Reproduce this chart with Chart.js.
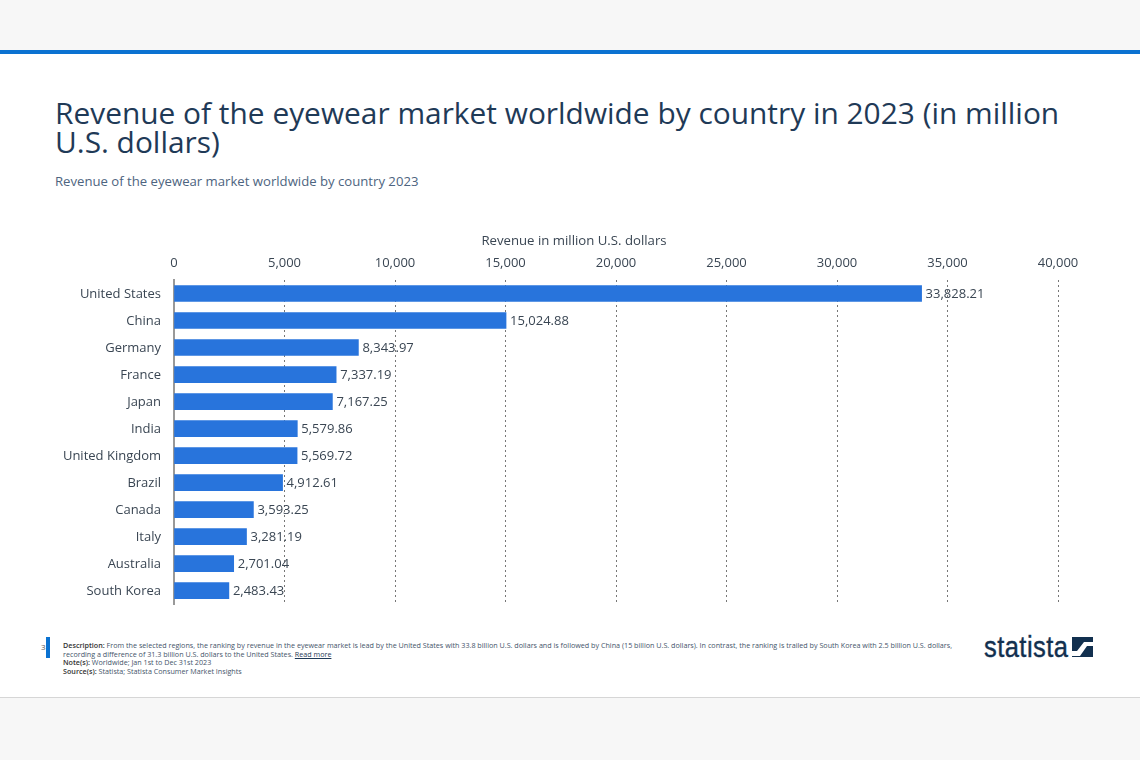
<!DOCTYPE html>
<html>
<head>
<meta charset="utf-8">
<title>Revenue of the eyewear market worldwide by country 2023</title>
<script src="https://cdn.jsdelivr.net/npm/chart.js@4"></script>
<style>
  html, body { margin: 0; padding: 0; background: #fff; }
  body { width: 1140px; height: 760px; position: relative; overflow: hidden; font-family: "Open Sans", sans-serif; }
  .band { position: absolute; left: 0; width: 1140px; background: #f7f7f7; }
  #top { top: 0; height: 50px; border-bottom: 4px solid #0b72d1; box-sizing: content-box; }
  #bottom { top: 697px; height: 63px; border-top: 1px solid #d6d6d6; }
  h1 { position: absolute; left: 55px; top: 98px; width: 1040px; margin: 0; font-size: 29.88px; line-height: 29px; font-weight: 400; color: #1f3a57; }
  h2 { position: absolute; left: 55px; top: 172px; margin: 0; font-size: 13.15px; line-height: 18px; font-weight: 400; color: #4d6480; }
  #axisTitle { position: absolute; left: 374px; width: 400px; top: 231px; text-align: center; font-size: 13.2px; line-height: 18px; color: #3a4653; }
  #chartBox { position: absolute; left: 0; top: 225px; width: 1140px; height: 392px; }
  #pageNo { position: absolute; left: 41px; top: 641px; font-size: 8px; line-height: 11px; color: #555; }
  #mark { position: absolute; left: 46px; top: 637px; width: 4px; height: 21px; background: #0b72d1; }
  #notes { position: absolute; left: 63px; top: 641px; width: 900px; font-size: 7.18px; line-height: 8.7px; color: #44546a; }
  #notes b { font-weight: 600; color: #333; }
  #notes u { color: #1f3a57; }
  #logo { position: absolute; left: 984px; top: 630px; font-family: "Liberation Sans", sans-serif; font-size: 29px; line-height: 34px; color: #12304f; letter-spacing: 0.5px; transform: scaleX(0.88); transform-origin: left top; -webkit-text-stroke: 0.4px #12304f; }
  #logoIcon { position: absolute; left: 1072px; top: 637px; }
</style>
</head>
<body>
<div class="band" id="top"></div>
<h1>Revenue of the eyewear market worldwide by country in 2023 (in million U.S. dollars)</h1>
<h2>Revenue of the eyewear market worldwide by country 2023</h2>
<div id="chartBox"><canvas id="barras"></canvas></div>
<div id="axisTitle">Revenue in million U.S. dollars</div>
<div id="pageNo">3</div>
<div id="mark"></div>
<div id="notes">
  <b>Description:</b> From the selected regions, the ranking by revenue in the eyewear market is lead by the United States with 33.8 billion U.S. dollars and is followed by China (15 billion U.S. dollars). In contrast, the ranking is trailed by South Korea with 2.5 billion U.S. dollars, recording a difference of 31.3 billion U.S. dollars to the United States. <u>Read more</u><br>
  <b>Note(s):</b> Worldwide; Jan 1st to Dec 31st 2023<br>
  <b>Source(s):</b> Statista; Statista Consumer Market Insights
</div>
<div id="logo">statista</div>
<svg id="logoIcon" width="21" height="20" viewBox="0 0 21 20">
  <rect width="21" height="20" fill="#12304f"/>
  <path d="M0 14 H5 L12 5 H21 V9 H15 L8 19 H0 Z" fill="#fff"/>
</svg>
<div class="band" id="bottom"></div>
<script>
const countries = ['United States', 'China', 'Germany', 'France', 'Japan', 'India', 'United Kingdom', 'Brazil', 'Canada', 'Italy', 'Australia', 'South Korea'];
const revenue = [33828.21, 15024.88, 8343.97, 7337.19, 7167.25, 5579.86, 5569.72, 4912.61, 3593.25, 3281.19, 2701.04, 2483.43];
const axisTicks = [0, 5000, 10000, 15000, 20000, 25000, 30000, 35000, 40000];

//OUTPUT THE VALUE NEXT TO EACH BAR
const barLabels = {
  id: 'barLabels',
  afterDatasetsDraw(chart) {
    const ctx = chart.ctx;
    ctx.save();
    ctx.font = '13px "Open Sans"';
    ctx.fillStyle = '#3a4653';
    ctx.textBaseline = 'middle';
    chart.getDatasetMeta(0).data.forEach((bar, i) => {
      ctx.fillText(revenue[i].toLocaleString('en-US', { minimumFractionDigits: 2 }), bar.x + 4, bar.y + 0.5);
    });
    ctx.restore();
  }
};

new Chart(document.getElementById('barras'), {
  type: 'bar',
  data: {
    labels: countries,
    datasets: [{
      data: revenue,
      backgroundColor: '#2874dc',
      barThickness: 16
    }]
  },
  plugins: [barLabels],
  options: {
    indexAxis: 'y',
    responsive: true,
    maintainAspectRatio: false,
    animation: false,
    layout: { padding: { left: 0, right: 82, top: 0, bottom: 6 } },
    plugins: { legend: { display: false }, tooltip: { enabled: false } },
    scales: {
      x: {
        position: 'top',
        min: 0,
        max: 40000,
        afterBuildTicks(axis) { axis.ticks = axisTicks.map(value => ({ value })); },
        afterFit(axis) { axis.height = 55; },
        ticks: { color: '#3a4653', font: { family: 'Open Sans', size: 13 }, maxRotation: 0, padding: 9, callback: v => v.toLocaleString('en-US') },
        grid: {
          drawTicks: false,
          color: ctx => ctx.tick && ctx.tick.value === 0 ? 'transparent' : '#777',
          lineWidth: 1
        },
        border: { display: false, dash: [2, 3] }
      },
      y: {
        afterFit(axis) { axis.width = 174; },
        ticks: { color: '#3a4653', font: { family: 'Open Sans', size: 13 }, padding: 5, autoSkip: false, labelOffset: 1 },
        grid: { display: false },
        border: { display: true, color: '#999', width: 2 }
      }
    }
  }
});
</script>
</body>
</html>
